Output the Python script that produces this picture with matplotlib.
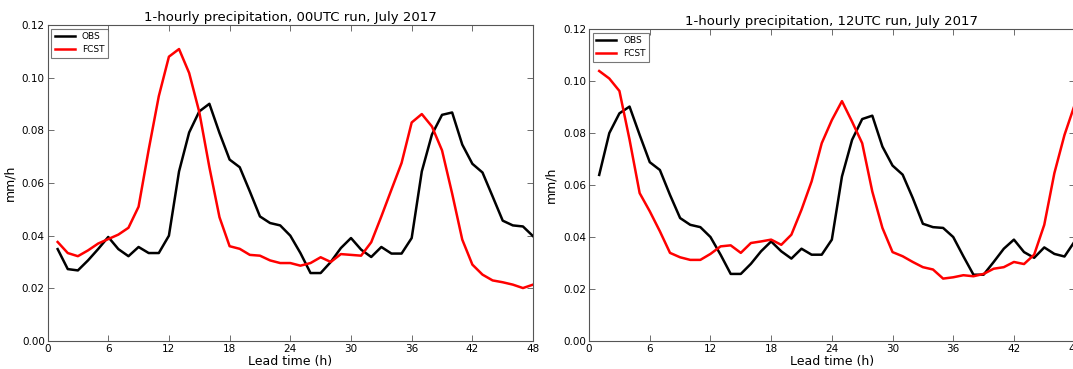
import matplotlib
matplotlib.use('Agg')
import matplotlib.pyplot as plt

hours = list(range(1, 49))

obs_00 = [0.0349, 0.0273, 0.0268, 0.0306, 0.0349, 0.0395, 0.0349, 0.0322, 0.0357, 0.0334,
          0.0334, 0.0400, 0.0644, 0.0792, 0.0872, 0.0901, 0.0790, 0.0689, 0.0660, 0.0568,
          0.0473, 0.0448, 0.0439, 0.0400, 0.0334, 0.0258, 0.0258, 0.0300, 0.0353, 0.0391,
          0.0347, 0.0319, 0.0357, 0.0332, 0.0332, 0.0391, 0.0644, 0.0784, 0.0859, 0.0868,
          0.0746, 0.0673, 0.0640, 0.0549, 0.0457, 0.0439, 0.0435, 0.0398]
fcst_00 = [0.0376, 0.0334, 0.0322, 0.0344, 0.0370, 0.0387, 0.0404, 0.0430, 0.0510, 0.0727,
           0.0930, 0.1080, 0.1109, 0.1018, 0.0870, 0.0660, 0.0470, 0.0360, 0.0350, 0.0327,
           0.0324, 0.0306, 0.0296, 0.0296, 0.0286, 0.0296, 0.0318, 0.0300, 0.0330, 0.0327,
           0.0324, 0.0375, 0.0473, 0.0575, 0.0676, 0.0830, 0.0862, 0.0815, 0.0724, 0.0560,
           0.0385, 0.0290, 0.0252, 0.0230, 0.0223, 0.0214, 0.0201, 0.0214]

obs_12 = [0.0639, 0.0800, 0.0876, 0.0902, 0.0793, 0.0688, 0.0658, 0.0562, 0.0473, 0.0447,
          0.0438, 0.0400, 0.0332, 0.0258, 0.0258, 0.0297, 0.0345, 0.0383, 0.0345, 0.0317,
          0.0355, 0.0332, 0.0332, 0.0390, 0.0633, 0.0774, 0.0854, 0.0867, 0.0748, 0.0675,
          0.0640, 0.0550, 0.0451, 0.0438, 0.0435, 0.0400, 0.0326, 0.0255, 0.0255, 0.0304,
          0.0355, 0.0390, 0.0342, 0.0320, 0.0360, 0.0335, 0.0325, 0.0383]
fcst_12 = [0.1039, 0.1010, 0.0962, 0.0775, 0.0569, 0.0499, 0.0422, 0.0339, 0.0322, 0.0312,
           0.0312, 0.0335, 0.0364, 0.0368, 0.0339, 0.0377, 0.0383, 0.0390, 0.0370, 0.0409,
           0.0505, 0.0614, 0.0761, 0.0850, 0.0923, 0.0844, 0.0761, 0.0575, 0.0435, 0.0342,
           0.0326, 0.0304, 0.0284, 0.0275, 0.0240, 0.0245, 0.0253, 0.0249, 0.0258, 0.0278,
           0.0284, 0.0304, 0.0296, 0.0332, 0.0447, 0.0646, 0.0793, 0.0908]

titles = ['1-hourly precipitation, 00UTC run, July 2017',
          '1-hourly precipitation, 12UTC run, July 2017']
xticks = [0, 6, 12, 18, 24, 30, 36, 42, 48]
yticks = [0.00, 0.02, 0.04, 0.06, 0.08, 0.10, 0.12]

plt.rcParams['xtick.direction'] = 'in'
plt.rcParams['ytick.direction'] = 'in'
plt.rcParams['xtick.top'] = True
plt.rcParams['ytick.right'] = True

fig = plt.figure(figsize=(10.73, 3.69), dpi=100)
ax1 = fig.add_axes([0.0443, 0.076, 0.4525, 0.856])
ax2 = fig.add_axes([0.549, 0.076, 0.4525, 0.845])

for ax, obs, fcst, title in [(ax1, obs_00, fcst_00, titles[0]), (ax2, obs_12, fcst_12, titles[1])]:
    ax.plot(hours, obs, color='black', lw=1.8, label='OBS')
    ax.plot(hours, fcst, color='red', lw=1.8, label='FCST')
    ax.set_xlim(0, 48)
    ax.set_ylim(0, 0.12)
    ax.set_xticks(xticks)
    ax.set_yticks(yticks)
    ax.set_yticklabels(['%.2f' % v for v in yticks])
    ax.tick_params(labelsize=7.5, length=4, width=0.6, color='#555555', pad=2)
    for s in ax.spines.values():
        s.set_color('#555555')
        s.set_linewidth(0.8)
    ax.set_title(title, fontsize=9.5, pad=3)
    ax.set_xlabel('Lead time (h)', fontsize=9, labelpad=1)
    ax.set_ylabel('mm/h', fontsize=9, labelpad=4)
    leg = ax.legend(loc='upper left', fontsize=6.5, fancybox=False, edgecolor='#555555',
                    handlelength=2.2, borderpad=0.4, labelspacing=0.4, borderaxespad=0.4)
    leg.get_frame().set_linewidth(0.8)

fig.savefig('out.png', dpi=100, facecolor='white')
